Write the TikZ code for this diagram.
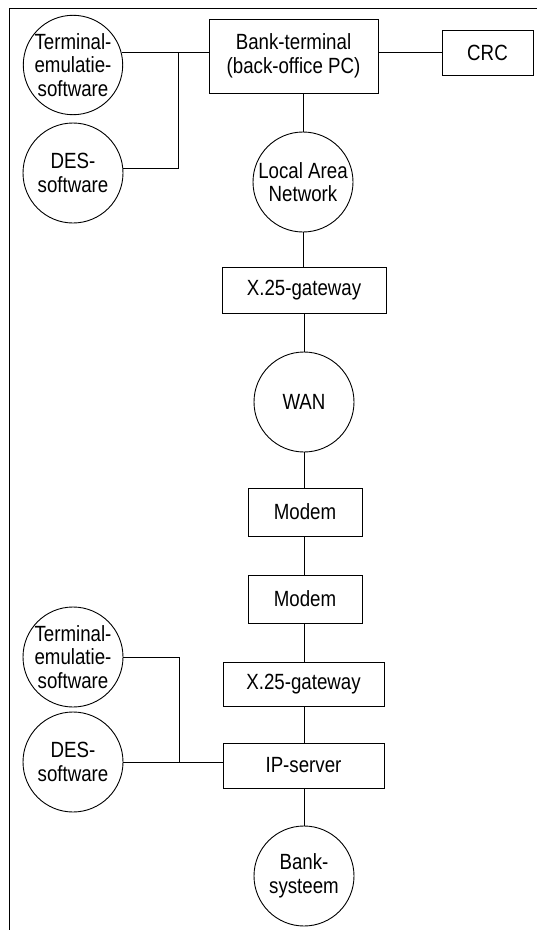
\documentclass[tikz,border=0pt]{standalone}
\usepackage{fontspec}
\setmainfont{Liberation Sans}[FakeStretch=0.85]
\begin{document}
\begin{tikzpicture}[x=1pt,y=-1pt,
  every node/.style={font=\fontsize{22}{23.5}\selectfont, inner sep=0pt, align=center},
  unit/.style={draw, line width=0.9pt, rectangle},
  blob/.style={draw, line width=0.9pt, circle, minimum size=100pt},
  link/.style={line width=0.8pt}]
\useasboundingbox (0,0) rectangle (537,930);

% open frame along the left and top edges
\draw[line width=0.9pt] (9,930) -- (9,8) -- (537,8);

% upper site
\node[unit, minimum width=169pt, minimum height=74pt] (bank) at (293.5,56) {Bank-terminal\\(back-office PC)};
\node[unit, minimum width=91pt, minimum height=45pt] (crc) at (487.5,52.5) {CRC};
\node[blob, minimum size=98pt] (termA) at (73,65) {Terminal-\\emulatie-\\software};
\node[blob] (desA) at (73,173) {DES-\\software};
\node[blob] (lan) at (303,182) {Local Area\\Network};
\node[unit, minimum width=164pt, minimum height=46pt] (gwA) at (304,290) {X.25-gateway};

% wide area link
\node[blob] (wan) at (304,402) {WAN};
\node[unit, minimum width=114pt, minimum height=48pt] (modA) at (305,512) {Modem};
\node[unit, minimum width=114pt, minimum height=48pt] (modB) at (305,599) {Modem};

% lower site
\node[unit, minimum width=161pt, minimum height=44pt] (gwB) at (303.5,684) {X.25-gateway};
\node[unit, minimum width=161pt, minimum height=45pt] (ip) at (303.5,765.5) {IP-server};
\node[blob] (termB) at (73,657) {Terminal-\\emulatie-\\software};
\node[blob] (desB) at (73,762) {DES-\\software};
\node[blob] (core) at (304,876) {Bank-\\systeem};

\coordinate (jA) at (178,53);
\coordinate (jB) at (179,657);

% connections
\draw[link] (termA.14) -- (termA.14 -| bank.west);
\draw[link] (desA.5) -| (jA);
\draw[link] (crc.west) -- (crc.west -| bank.east);
\draw[link] (lan.north) -- (lan.north |- bank.south);
\draw[link] (lan.south) -- (lan.south |- gwA.north);
\draw[link] (gwA.south -| wan.north) -- (wan.north);
\draw[link] (wan.south) -- (wan.south |- modA.north);
\draw[link] (modA.south -| wan.south) -- (modB.north -| wan.south);
\draw[link] (modB.south -| wan.south) -- (gwB.north -| wan.south);
\draw[link] (gwB.south -| wan.south) -- (ip.north -| wan.south);
\draw[link] (ip.south -| core.north) -- (core.north);
\draw[link] (termB.east) -| (jB |- desB.east);
\draw[link] (desB.east) -- (desB.east -| ip.west);
\end{tikzpicture}
\end{document}
